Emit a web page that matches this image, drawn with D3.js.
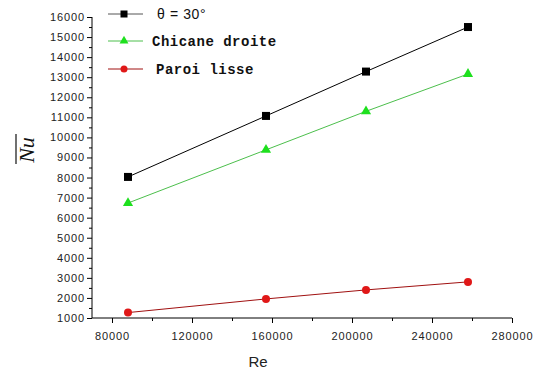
<!DOCTYPE html>
<html>
<head>
<meta charset="utf-8">
<script src="https://cdn.jsdelivr.net/npm/d3@7"></script>
<style>
  body { margin: 0; background: #fff; }
  svg { display: block; }
</style>
</head>
<body>
<div id="chart"></div>
<script>
// valeurs
const reValues = [88000, 157000, 207000, 258000];
const theta30 = [8030, 11070, 13280, 15500];
const chicaneDroite = [6730, 9380, 11300, 13160];
const paroiLisse = [1270, 1950, 2400, 2800];
const xTicks = [80000, 120000, 160000, 200000, 240000, 280000];
const yTicks = d3.range(1000, 16001, 1000);

const series = [
  { name: 'θ = 30°', values: theta30, line: '#000', fill: '#000', shape: 'square' },
  { name: 'Chicane droite', values: chicaneDroite, line: '#4cbf4c', fill: '#1ee01e', shape: 'triangle' },
  { name: 'Paroi lisse', values: paroiLisse, line: '#a01010', fill: '#e01818', shape: 'circle' },
];

const W = 551, H = 383;
const svg = d3.select('#chart').append('svg').attr('width', W).attr('height', H);

// axes
const x = d3.scaleLinear().domain([70000, 280000]).range([92, 512]);
const y = d3.scaleLinear().domain([1000, 16000]).range([318, 17]);

const font = 'Arial, "Liberation Sans", sans-serif';

const xAxis = svg.append('g').attr('transform', 'translate(0,318)')
  .call(d3.axisBottom(x).tickValues(xTicks).tickSize(5).tickSizeOuter(0).tickFormat(d3.format('d')));
// petites graduations
svg.append('g').attr('transform', 'translate(0,318)')
  .call(d3.axisBottom(x).tickValues(d3.range(100000, 280000, 40000)).tickSize(3).tickFormat(''))
  .select('.domain').remove();

const yAxis = svg.append('g').attr('transform', 'translate(92,0)')
  .call(d3.axisLeft(y).tickValues(yTicks).tickSize(5).tickSizeOuter(0).tickFormat(d3.format('d')));
svg.append('g').attr('transform', 'translate(92,0)')
  .call(d3.axisLeft(y).tickValues(d3.range(1500, 16000, 1000)).tickSize(3).tickFormat(''))
  .select('.domain').remove();

xAxis.select('.domain').attr('d', 'M92,0H512');
yAxis.select('.domain').attr('d', 'M0,318V17');

svg.selectAll('.tick text')
  .style('font-family', font).style('font-size', '11px').style('letter-spacing', '0.9px')
  .attr('fill', '#222');
xAxis.selectAll('.tick text').attr('dy', '1.3em');
yAxis.selectAll('.tick text').attr('x', -7);

// titres des axes
svg.append('text').attr('x', 258).attr('y', 367).attr('text-anchor', 'middle')
  .style('font-family', font).style('font-size', '15px').attr('fill', '#222').text('Re');

const yl = svg.append('g').attr('transform', 'translate(34,150) rotate(-90)');
yl.append('text').attr('text-anchor', 'middle')
  .style('font-family', '"Liberation Serif", "DejaVu Serif", serif').style('font-style', 'italic')
  .style('font-size', '22px').attr('fill', '#111').text('Nu');
yl.append('line').attr('x1', -14).attr('x2', 16).attr('y1', -18).attr('y2', -18)
  .attr('stroke', '#111').attr('stroke-width', 1.2);

// marqueurs
function marker(g, s, size) {
  if (s.shape === 'square') {
    g.append('rect').attr('x', -size / 2).attr('y', -size / 2).attr('width', size).attr('height', size).attr('fill', s.fill);
  } else if (s.shape === 'triangle') {
    g.append('path').attr('d', d3.symbol(d3.symbolTriangle, size * size * 0.7)()).attr('fill', s.fill);
  } else {
    g.append('circle').attr('r', size / 2).attr('fill', s.fill);
  }
}

const line = d3.line().x((d, i) => x(reValues[i])).y(d => y(d));

series.forEach(s => {
  svg.append('path').datum(s.values).attr('d', line)
    .attr('fill', 'none').attr('stroke', s.line).attr('stroke-width', 1);
  s.values.forEach((v, i) => {
    marker(svg.append('g').attr('transform', `translate(${x(reValues[i])},${y(v)})`), s, 8);
  });
});

// légende
const legY = [14, 41, 69];
const legX = [157, 152, 156];
series.forEach((s, i) => {
  const g = svg.append('g').attr('transform', `translate(0,${legY[i]})`);
  g.append('line').attr('x1', 108).attr('x2', 143).attr('stroke', s.line === '#000' ? '#555' : s.line).attr('stroke-width', 1);
  marker(g.append('g').attr('transform', 'translate(124,0)'), s, 7);
  const t = g.append('text').attr('x', legX[i]).attr('y', 5).attr('fill', '#111').text(s.name);
  if (i === 0) {
    t.style('font-family', font).style('font-size', '14px').style('letter-spacing', '0.6px');
  } else {
    t.style('font-family', '"Liberation Mono", "DejaVu Sans Mono", monospace')
      .style('font-weight', 'bold').style('font-size', '14px').style('letter-spacing', '0.5px');
  }
});
</script>
</body>
</html>
